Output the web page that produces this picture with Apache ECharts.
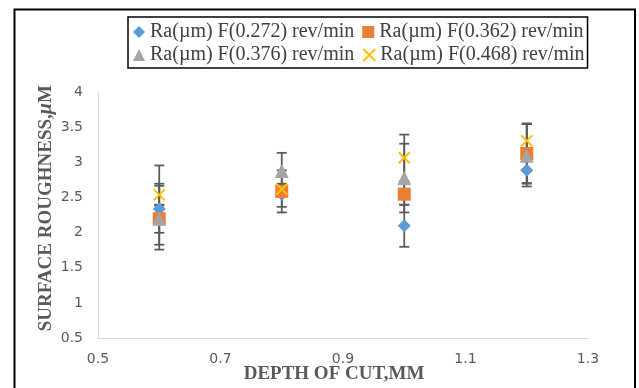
<!DOCTYPE html>
<html>
<head>
<meta charset="utf-8">
<script src="https://cdn.jsdelivr.net/npm/echarts@6/dist/echarts.min.js"></script>
<style>
html,body{margin:0;padding:0;background:#fff;}
#chart{width:639px;height:388px;}
</style>
</head>
<body>
<div id="chart"></div>
<script>
// ---- data ----
var depth = [0.6, 0.8, 1.0, 1.2];
var seriesNames = [
  'Ra(µm) F(0.272) rev/min',
  'Ra(µm) F(0.362) rev/min',
  'Ra(µm) F(0.376) rev/min',
  'Ra(µm) F(0.468) rev/min'
];
var ra272 = [2.34, 2.55, 2.10, 2.89];
var ra362 = [2.20, 2.59, 2.55, 3.13];
var ra376 = [2.20, 2.88, 2.78, 3.10];
var ra468 = [2.54, 2.62, 3.07, 3.31];

var err272Low  = [1.76, 2.37, 1.80, 2.66];
var err272High = [2.96, 2.70, 2.40, 3.12];
var err362Low  = [1.83, 2.29, 2.40, 2.71];
var err362High = [2.70, 2.89, 2.70, 3.55];
var err376Low  = [2.00, 2.62, 2.29, 2.70];
var err376High = [2.40, 3.14, 3.27, 3.55];
var err468Low  = [2.39, 2.52, 2.74, 3.06];
var err468High = [2.67, 2.68, 3.40, 3.56];

var xTicks = [0.5, 0.7, 0.9, 1.1, 1.3];
var yTicks = [0.5, 1, 1.5, 2, 2.5, 3, 3.5, 4];

// ---- build ----
var values = [ra272, ra362, ra376, ra468];
var lows = [err272Low, err362Low, err376Low, err468Low];
var highs = [err272High, err362High, err376High, err468High];
var colors = ['#5B9BD5', '#ED7D31', '#A5A5A5', '#FFC000'];
var symbols = ['diamond', 'rect', 'triangle', 'path://M0,0L10,10M10,0L0,10'];
var sizes = [13, 13, 14, 11];

function pairs(vals) {
  return depth.map(function (d, i) { return [d, vals[i]]; });
}

var series = [];
for (var s = 0; s < 4; s++) {
  series.push({
    type: 'custom',
    name: 'err' + s,
    z: 1,
    silent: true,
    encode: { x: 0, y: [1, 2] },
    data: depth.map(function (d, i) { return [d, lows[s][i], highs[s][i]]; }),
    renderItem: function (params, api) {
      var x = api.value(0);
      var top = api.coord([x, api.value(2)]);
      var bot = api.coord([x, api.value(1)]);
      var hw = 5;
      var st = { stroke: '#595959', lineWidth: 1.75 };
      return {
        type: 'group',
        children: [
          { type: 'line', shape: { x1: top[0], y1: top[1], x2: bot[0], y2: bot[1] }, style: st },
          { type: 'line', shape: { x1: top[0] - hw, y1: top[1], x2: top[0] + hw, y2: top[1] }, style: st },
          { type: 'line', shape: { x1: bot[0] - hw, y1: bot[1], x2: bot[0] + hw, y2: bot[1] }, style: st }
        ]
      };
    }
  });
}
for (var k = 0; k < 4; k++) {
  var isX = k === 3;
  series.push({
    type: 'scatter',
    name: seriesNames[k],
    z: 2,
    symbol: symbols[k],
    symbolSize: sizes[k],
    data: pairs(values[k]),
    itemStyle: isX
      ? { color: colors[k], borderColor: colors[k], borderWidth: 2, opacity: 1 }
      : { color: colors[k], opacity: 1 }
  });
}

var labelFont = { color: '#595959', fontFamily: 'DejaVu Sans', fontSize: 14 };
var titleFont = { color: '#595959', fontFamily: 'Liberation Serif', fontSize: 19, fontWeight: 'bold' };

var chart = echarts.init(document.getElementById('chart'), null, { renderer: 'canvas' });
chart.setOption({
  animation: false,
  backgroundColor: '#ffffff',
  graphic: [{
    type: 'rect',
    shape: { x: 14.5, y: 9.5, width: 620.5, height: 400 },
    style: { fill: 'none', stroke: '#000', lineWidth: 2 },
    silent: true
  }],
  legend: {
    data: seriesNames,
    left: 128,
    top: 17,
    width: 470,
    padding: [5, 3, 3, 5],
    itemGap: 3,
    itemWidth: 12,
    itemHeight: 12,
    borderColor: '#000',
    borderWidth: 1.5,
    formatter: function (name) {
      return seriesNames.indexOf(name) % 2 === 0 ? name + '\u00a0' : name;
    },
    textStyle: { color: '#404040', fontFamily: 'Liberation Serif', fontSize: 20 }
  },
  grid: { left: 98, top: 92.5, right: 51, bottom: 50, outerBoundsMode: 'none', containLabel: false },
  xAxis: {
    type: 'value',
    min: xTicks[0],
    max: xTicks[xTicks.length - 1],
    interval: 0.2,
    name: 'DEPTH OF CUT,MM',
    nameLocation: 'middle',
    nameGap: 27,
    nameMoveOverlap: false,
    nameTextStyle: Object.assign({ padding: [0, 18, 0, 0] }, titleFont),
    axisLine: { show: true, lineStyle: { color: '#D9D9D9', width: 1 } },
    axisTick: { show: false },
    splitLine: { show: false },
    axisLabel: Object.assign({ margin: 14, formatter: function (v) { return String(Math.round(v * 10) / 10); } }, labelFont)
  },
  yAxis: {
    type: 'value',
    min: yTicks[0],
    max: yTicks[yTicks.length - 1],
    interval: 0.5,
    name: 'SURFACE ROUGHNESS,{i|μ}M',
    nameLocation: 'middle',
    nameGap: 42,
    nameMoveOverlap: false,
    nameRotate: 90,
    nameTextStyle: Object.assign({
      padding: [0, 0, 0, 14],
      rich: { i: { color: '#595959', fontFamily: 'Liberation Serif', fontSize: 20, fontWeight: 'bold', fontStyle: 'italic' } }
    }, titleFont),
    axisLine: { show: true, lineStyle: { color: '#D9D9D9', width: 1 } },
    axisTick: { show: false },
    splitLine: { show: false },
    axisLabel: Object.assign({ margin: 15 }, labelFont)
  },
  series: series
});
</script>
</body>
</html>
